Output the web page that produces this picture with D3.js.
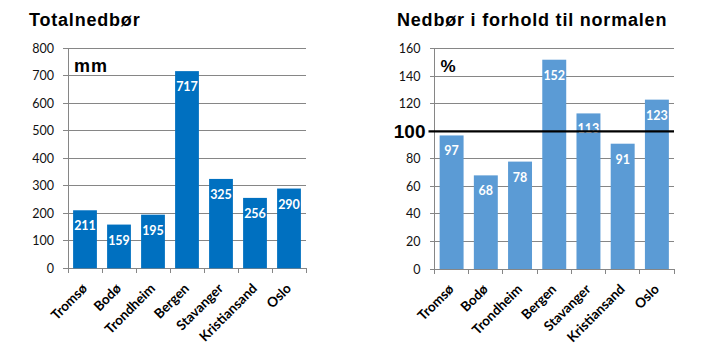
<!DOCTYPE html>
<html><head><meta charset="utf-8">
<script src="https://cdn.jsdelivr.net/npm/d3@7"></script>
<style>body{margin:0;background:#fff}svg{display:block}</style>
</head><body>
<script>
const cities = ["Tromsø","Bodø","Trondheim","Bergen","Stavanger","Kristiansand","Oslo"];
const totalMm = [211,159,195,717,325,256,290];
const pctNormal = [97,68,78,152,113,91,123];
const ticksLeft = [0,100,200,300,400,500,600,700,800];
const ticksRight = [0,20,40,60,80,100,120,140,160];
const titleLeft = "Totalnedbør";
const titleRight = "Nedbør i forhold til normalen";
const unitLeft = "mm";
const unitRight = "%";
const normalLine = 100;

const W = 709, H = 346;
const svg = d3.select("body").append("svg").attr("width", W).attr("height", H);

function panel(cfg){
  const g = svg.append("g");
  const x = d3.scaleBand().domain(cities).range([cfg.x0, cfg.x1]).paddingInner(0.3).paddingOuter(0.15);
  const y = d3.scaleLinear().domain([0, cfg.max]).range([cfg.yb, cfg.yt]);
  // gridlines
  g.append("g").selectAll("line").data(cfg.ticks).join("line")
    .attr("x1", cfg.x0 - 5).attr("x2", cfg.x1)
    .attr("y1", d => y(d)).attr("y2", d => y(d))
    .attr("stroke", "#868686").attr("stroke-width", 1).attr("shape-rendering","crispEdges");
  // y axis line
  g.append("line").attr("x1", cfg.x0).attr("x2", cfg.x0).attr("y1", y(cfg.max)).attr("y2", cfg.yb + 5)
    .attr("stroke", "#868686").attr("shape-rendering","crispEdges");
  // x ticks at band boundaries
  const step = x.step();
  g.append("g").selectAll("line").data(d3.range(cities.length + 1)).join("line")
    .attr("x1", i => cfg.x0 + i * step).attr("x2", i => cfg.x0 + i * step)
    .attr("y1", y(0)).attr("y2", y(0) + 5)
    .attr("stroke", "#868686").attr("shape-rendering","crispEdges");
  // y tick labels
  g.append("g").selectAll("text").data(cfg.ticks.filter(t => !(cfg.refLine && t === cfg.refLine))).join("text")
    .attr("x", cfg.x0 - 14).attr("y", d => y(d)).attr("dy", "0.36em")
    .attr("text-anchor", "end").attr("font-family", "Lato").attr("font-size", 12.5)
    .attr("fill", "#111").text(d => d);
  // bars
  g.append("g").selectAll("rect").data(cfg.values).join("rect")
    .attr("x", (d,i) => x(cities[i])).attr("width", x.bandwidth())
    .attr("y", d => y(d)).attr("height", d => y(0) - y(d))
    .attr("fill", cfg.color);
  // value labels
  g.append("g").selectAll("text").data(cfg.values).join("text")
    .attr("x", (d,i) => x(cities[i]) + x.bandwidth()/2).attr("y", d => y(d) + 20)
    .attr("text-anchor", "middle").attr("font-family", "Lato")
    .attr("font-weight", "bold").attr("font-size", 12.5).attr("fill", "#fff").text(d => d);
  // category labels
  g.append("g").selectAll("text").data(cities).join("text")
    .attr("transform", d => `translate(${x(d) + x.bandwidth()/2 + 3},${y(0) + 21}) rotate(-45)`)
    .attr("text-anchor", "end").attr("font-family", "Lato").attr("font-weight", "bold")
    .attr("font-size", 13.5).attr("fill", "#000").text(d => d);
  // reference line
  if (cfg.refLine){
    g.append("line").attr("x1", cfg.x0 - 6).attr("x2", cfg.x1)
      .attr("y1", y(cfg.refLine)).attr("y2", y(cfg.refLine))
      .attr("stroke", "#000").attr("stroke-width", 2.2);
    g.append("text").attr("x", cfg.x0 - 9).attr("y", y(cfg.refLine)).attr("dy", "0.36em")
      .attr("text-anchor", "end").attr("font-family", "Liberation Sans, Arial").attr("font-weight", "bold")
      .attr("font-size", 19).attr("fill", "#000").text(cfg.refLine);
  }
  // unit
  g.append("text").attr("x", cfg.x0 + 6).attr("y", 71.5)
    .attr("font-family", "Liberation Sans, Arial").attr("font-weight", "bold")
    .attr("font-size", cfg.unitSize).attr("letter-spacing", cfg.unitSpacing).attr("fill", "#000").text(cfg.unit);
  // title
  g.append("text").attr("x", cfg.titleX).attr("y", 26)
    .attr("font-family", "Liberation Sans, Arial").attr("font-weight", "bold")
    .attr("font-size", 18).attr("letter-spacing", 0.8).attr("fill", "#000").text(cfg.title);
}

panel({x0: 68, x1: 306, yt: 48.3, yb: 268.3, max: 800, ticks: ticksLeft, values: totalMm,
  color: "#0070C0", unit: unitLeft, unitSize: 18, unitSpacing: 1, title: titleLeft, titleX: 29});
panel({x0: 434.5, x1: 674, yt: 48.7, yb: 269, max: 160, ticks: ticksRight, values: pctNormal,
  color: "#5B9BD5", unit: unitRight, unitSize: 17, unitSpacing: 0, title: titleRight, titleX: 397, refLine: normalLine});
</script>
</body></html>
